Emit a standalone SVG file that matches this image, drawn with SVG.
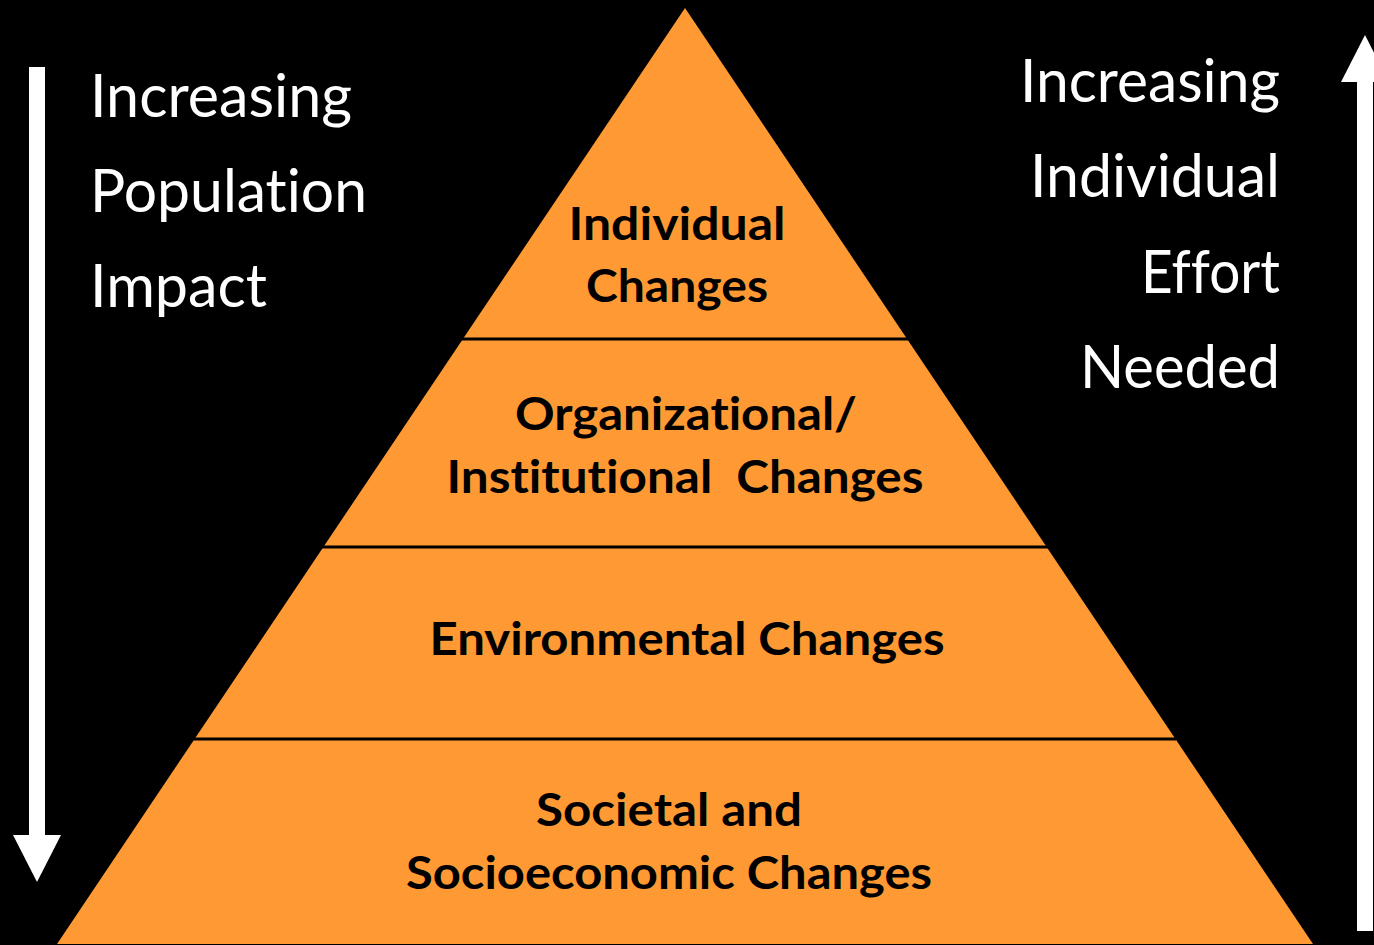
<svg xmlns="http://www.w3.org/2000/svg" width="1374" height="945" viewBox="0 0 1374 945">
  <style>
    .side { font-family: Lato, "Open Sans", "Liberation Sans", sans-serif; font-size: 60px; fill: #ffffff; font-variant-ligatures: none; font-feature-settings: "liga" 0, "clig" 0; }
    .lvl { font-family: Lato, "Open Sans", "Liberation Sans", sans-serif; font-size: 46px; font-weight: bold; fill: #000000; text-anchor: middle; font-variant-ligatures: none; font-feature-settings: "liga" 0, "clig" 0; }
    .div { stroke: #000000; stroke-width: 3; }
  </style>
  <rect x="0" y="0" width="1374" height="945" fill="#000000"/>

  <g id="pyramid">
    <polygon points="685,8 1313,944 57,944" fill="#FF9933"/>
  </g>

  <g id="connectors">
    <line class="div" x1="460" y1="339" x2="910" y2="339"/>
    <line class="div" x1="322" y1="547" x2="1048" y2="547"/>
    <line class="div" x1="192" y1="739" x2="1176" y2="739"/>
    <g id="arrow-down">
      <rect x="29" y="67" width="16" height="770" fill="#ffffff"/>
      <polygon points="13,835 61,835 37,882" fill="#ffffff"/>
    </g>
    <g id="arrow-up">
      <rect x="1357" y="80" width="16" height="851" fill="#ffffff"/>
      <polygon points="1341,82 1389,82 1365,35" fill="#ffffff"/>
    </g>
  </g>

  <g id="level-individual">
    <text class="lvl" x="677" y="240" textLength="217" lengthAdjust="spacingAndGlyphs">Individual</text>
    <text class="lvl" x="677" y="302" textLength="182" lengthAdjust="spacingAndGlyphs">Changes</text>
  </g>
  <g id="level-organizational">
    <text class="lvl" x="686" y="430" textLength="342" lengthAdjust="spacingAndGlyphs">Organizational/</text>
    <text class="lvl" x="685" y="493" textLength="477" lengthAdjust="spacingAndGlyphs" xml:space="preserve">Institutional  Changes</text>
  </g>
  <g id="level-environmental">
    <text class="lvl" x="687" y="655" textLength="515" lengthAdjust="spacingAndGlyphs">Environmental Changes</text>
  </g>
  <g id="level-societal">
    <text class="lvl" x="669" y="826" textLength="266" lengthAdjust="spacingAndGlyphs">Societal and</text>
    <text class="lvl" x="669" y="889" textLength="526" lengthAdjust="spacingAndGlyphs">Socioeconomic Changes</text>
  </g>

  <g id="label-left">
    <text class="side" x="90" y="117" textLength="262" lengthAdjust="spacingAndGlyphs">Increasing</text>
    <text class="side" x="90" y="212" textLength="277" lengthAdjust="spacingAndGlyphs">Population</text>
    <text class="side" x="90" y="307" textLength="177" lengthAdjust="spacingAndGlyphs">Impact</text>
  </g>
  <g id="label-right">
    <text class="side" x="1020" y="102" textLength="260" lengthAdjust="spacingAndGlyphs">Increasing</text>
    <text class="side" x="1030" y="197" textLength="250" lengthAdjust="spacingAndGlyphs">Individual</text>
    <text class="side" x="1141" y="293" textLength="139" lengthAdjust="spacingAndGlyphs">Effort</text>
    <text class="side" x="1080" y="388" textLength="200" lengthAdjust="spacingAndGlyphs">Needed</text>
  </g>
</svg>
